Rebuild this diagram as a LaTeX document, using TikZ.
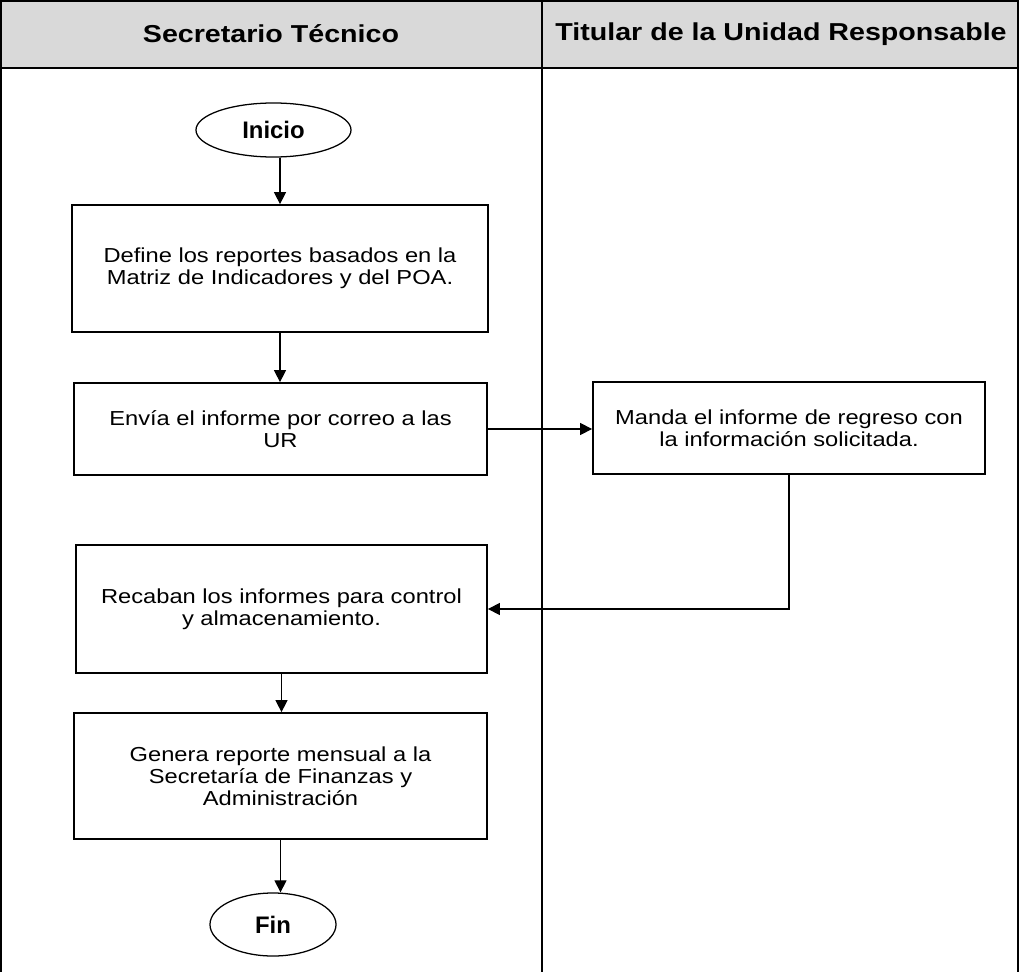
\documentclass[tikz,border=0pt]{standalone}
\usepackage{fontspec}
\setmainfont{Liberation Sans}[FakeStretch=1.17]
\newfontfamily\termfont{Liberation Sans}
\usetikzlibrary{arrows.meta,positioning,shapes.geometric}
\definecolor{lanegray}{RGB}{217,217,217}

\begin{document}
\begin{tikzpicture}[x=0.025cm, y=-0.025cm,
    pbox/.style={draw, line width=1.2pt, inner sep=0pt, align=center, font=\fontsize{14.4}{15.8}\selectfont},
    term/.style={draw, ellipse, line width=0.9pt, inner sep=0pt, font=\termfont\bfseries\fontsize{17}{20}\selectfont},
    lane/.style={font=\bfseries\fontsize{17.4}{20}\selectfont},
    arrow/.style={-{Triangle[length=0.3cm, width=0.3cm]}, line width=0.85pt}
]
\useasboundingbox (0,0) rectangle (1019,972);

% === Swimlanes ===
\fill[lanegray] (1,1) rectangle (1018,68);
\draw[line width=1.4pt] (1,972) -- (1,1) -- (1018,1) -- (1018,972);
\draw[line width=1.4pt] (1,68) -- (1018,68);
\draw[line width=1.4pt] (542,1) -- (542,972);
\node[lane] (lanest) at (271,34) {Secretario Técnico};
\node[lane] (laneur) at (781,34) {Titular de la Unidad Responsable};

% === Secretario Tecnico ===
\node[term, minimum width=3.875cm, minimum height=1.35cm] (inicio) at (273.5,130) {Inicio};
\node[pbox, minimum width=10.4cm, minimum height=3.175cm] (define) at (280,268.5)
    {Define los reportes basados en la\\Matriz de Indicadores y del POA.};
\node[pbox, minimum width=10.325cm, minimum height=2.3cm] (envia) at (280.5,429)
    {Envía el informe por correo a las\\UR};
\node[pbox, minimum width=10.275cm, minimum height=3.2cm] (recaba) at (281.5,609)
    {Recaban los informes para control\\y almacenamiento.};
\node[pbox, minimum width=10.325cm, minimum height=3.15cm] (genera) at (280.5,776)
    {Genera reporte mensual a la\\Secretaría de Finanzas y\\Administración};
\node[term, minimum width=3.15cm, minimum height=1.575cm] (fin) at (273,924.5) {Fin};

% === Titular UR ===
\node[pbox, minimum width=9.8cm, minimum height=2.3cm] (manda) at (789,428)
    {Manda el informe de regreso con\\la información solicitada.};

% === Flow ===
\draw[arrow] (inicio.south -| define.north) -- (define.north);
\draw[arrow] (define.south) -- (envia.north -| define.south);
\draw[arrow] (envia.east) -- (manda.west |- envia.east);
\draw[arrow] (manda.south) |- (recaba.east);
\draw[arrow] (recaba.south) -- (recaba.south |- genera.north);
\draw[arrow] (genera.south) -- (genera.south |- fin.north);

\end{tikzpicture}
\end{document}
